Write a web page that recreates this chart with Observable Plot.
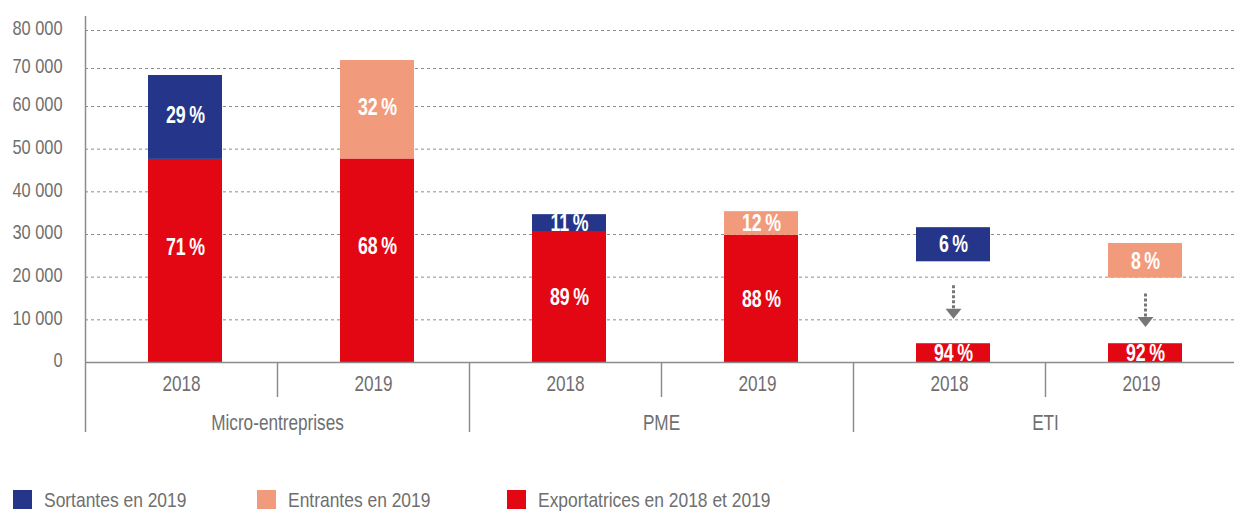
<!DOCTYPE html>
<html><head><meta charset="utf-8">
<script src="https://cdn.jsdelivr.net/npm/d3@7"></script>
<script src="https://cdn.jsdelivr.net/npm/@observablehq/plot@0.6"></script>
<style>
body{margin:0;background:#fff;}
#wrap{position:relative;width:1234px;height:516px;overflow:hidden;font-family:"Liberation Sans",Arial,sans-serif;color:#6f6f6f;}
#chart{position:absolute;left:0;top:0;}
.item{position:absolute;top:490px;display:flex;align-items:center;white-space:nowrap;font-size:21px;line-height:19px;}
.sw{width:19px;height:19px;margin-right:12px;flex:none;}
.lt{display:inline-block;transform:scaleX(0.83);transform-origin:0 50%;}
</style></head><body>
<div id="wrap"><div id="chart"></div><div id="legend"></div></div>
<script>
// ---- data ----
const groups = ["Micro-entreprises", "Micro-entreprises", "PME", "PME", "ETI", "ETI"];
const years = ["2018", "2019", "2018", "2019", "2018", "2019"];
const exportatrices = [47600, 47700, 30700, 29800, 4400, 4400];   // exportatrices en 2018 et 2019
const variation = [20560, 24400, 3950, 5550, 8000, 8140];          // sortantes (2018) / entrantes (2019)
const decalage = [0, 0, 0, 0, 19200, 15360];                       // ETI boxes drawn detached above
const pctExport = [71, 68, 89, 88, 94, 92];
const pctVariation = [29, 32, 11, 12, 6, 8];
const seriesNames = ["Sortantes en 2019", "Entrantes en 2019", "Exportatrices en 2018 et 2019"];
const seriesColors = ["#25368a", "#f29b7c", "#e30613"];
const yTicks = [0, 10000, 20000, 30000, 40000, 50000, 60000, 70000, 80000];

const FONT = '"Liberation Sans",Arial,sans-serif';
const GREY = "#6f6f6f";
const LINE = "#8c8c8c";

const rows = groups.map((g, i) => ({
  key: g + "|" + years[i],
  group: g,
  year: years[i],
  exp: exportatrices[i],
  vlo: exportatrices[i] + decalage[i],
  vhi: exportatrices[i] + decalage[i] + variation[i],
  off: decalage[i],
  series: years[i] === "2018" ? seriesNames[0] : seriesNames[1],
  pe: pctExport[i],
  pv: pctVariation[i]
}));
const keys = rows.map(d => d.key);
const fr = d3.formatLocale({thousands: " ", grouping: [3], decimal: ",", currency: ["", ""]}).format(",");
const STEP = 192;
const detached = rows.filter(d => d.off > 0);
const arrowHead = {draw(ctx) { ctx.moveTo(-8, -5); ctx.lineTo(8, -5); ctx.lineTo(0, 5); ctx.closePath(); }};
const pct = v => v + "\u2009%";

const chart = Plot.plot({
  width: 1234,
  height: 445,
  marginLeft: 85,
  marginRight: 0,
  marginTop: 16,
  marginBottom: 13,
  style: {fontFamily: FONT, fontSize: "20px", color: GREY, background: "white", overflow: "visible"},
  x: {type: "band", domain: keys, range: [85, 85 + STEP * keys.length], padding: 0, axis: null},
  y: {type: "linear", domain: [0, 60000, 80000], range: [362, 106, 30], axis: null},
  color: {domain: seriesNames, range: seriesColors},
  marks: [
    Plot.ruleY(yTicks.filter(d => d > 0), {stroke: LINE, strokeWidth: 1, strokeDasharray: "3,3"}),
    Plot.barY(rows, {x: "key", y1: 0, y2: "exp", fill: () => seriesNames[2], insetLeft: 63, insetRight: 55}),
    Plot.barY(rows, {x: "key", y1: "vlo", y2: "vhi", fill: "series", insetLeft: 63, insetRight: 55}),
    Plot.ruleY([0], {stroke: LINE, strokeWidth: 1.5}),
    // y axis line
    Plot.ruleX(rows.slice(0, 1), {x: "key", dx: -STEP / 2, stroke: LINE, strokeWidth: 1.5}),
    // group separators
    Plot.ruleX(rows.filter((d, i) => d.year === "2018" && i > 0), {x: "key", dx: -STEP / 2, y1: 0, y2: 0, insetBottom: -70, stroke: LINE, strokeWidth: 1.5}),
    // year separators
    Plot.ruleX(rows.filter(d => d.year === "2019"), {x: "key", dx: -STEP / 2, y1: 0, y2: 0, insetBottom: -35, stroke: LINE, strokeWidth: 1.5}),
    // arrows for detached ETI boxes
    Plot.ruleX(detached, {x: "key", y1: d => d.exp + d.off / 2, y2: d => d.exp + d.off / 2, insetTop: -17, insetBottom: -7, dx: 4, stroke: "#777", strokeWidth: 3, strokeDasharray: "3,2"}),
    Plot.dot(detached, {x: "key", y: d => d.exp + d.off / 2, symbol: arrowHead, fill: "#777", stroke: "none", dx: 4, dy: 11}),
    // value labels
    Plot.text(rows.filter(d => d.group !== "Micro-entreprises"), {x: "key", y: d => d.exp / 2, text: d => pct(d.pe), fill: "white", fontWeight: "bold", fontSize: 24, dx: 4}),
    Plot.text(rows.filter(d => d.group === "Micro-entreprises"), {x: "key", y: d => d.exp / 2, text: d => pct(d.pe), fill: "white", fontWeight: "bold", fontSize: 24, dx: 4, dy: -14}),
    Plot.text(rows, {x: "key", y: d => (d.vlo + d.vhi) / 2, text: d => pct(d.pv), fill: "white", fontWeight: "bold", fontSize: 24, dx: 4}),
    // x labels
    Plot.text(rows, {x: "key", y: 0, text: "year", dy: 21, fill: GREY, fontSize: 22}),
    Plot.text(rows.filter(d => d.year === "2018"), {x: "key", y: 0, text: "group", dx: STEP / 2, dy: 60, fill: GREY, fontSize: 22}),
    // y axis
    Plot.axisY(yTicks, {tickSize: 0, tickPadding: 23, tickFormat: fr, fontSize: 21, fill: GREY, dy: -2, label: null})
  ]
});
document.getElementById("chart").appendChild(chart);

// condensed look (the original uses a condensed typeface)
chart.querySelectorAll("text").forEach(t => {
  const bold = (t.closest("[font-weight]") || t).getAttribute("font-weight") === "bold";
  const len = t.getComputedTextLength();
  if (len > 0) {
    t.setAttribute("textLength", (len * (bold ? 0.74 : 0.78)).toFixed(1));
    t.setAttribute("lengthAdjust", "spacingAndGlyphs");
  }
});

// legend
const legendX = [13, 257, 507];
const legend = document.getElementById("legend");
seriesNames.forEach((name, i) => {
  const it = document.createElement("div");
  it.className = "item";
  it.style.left = legendX[i] + "px";
  it.innerHTML = `<span class="sw" style="background:${seriesColors[i]}"></span><span class="lt">${name}</span>`;
  legend.appendChild(it);
});
</script>
</body></html>
